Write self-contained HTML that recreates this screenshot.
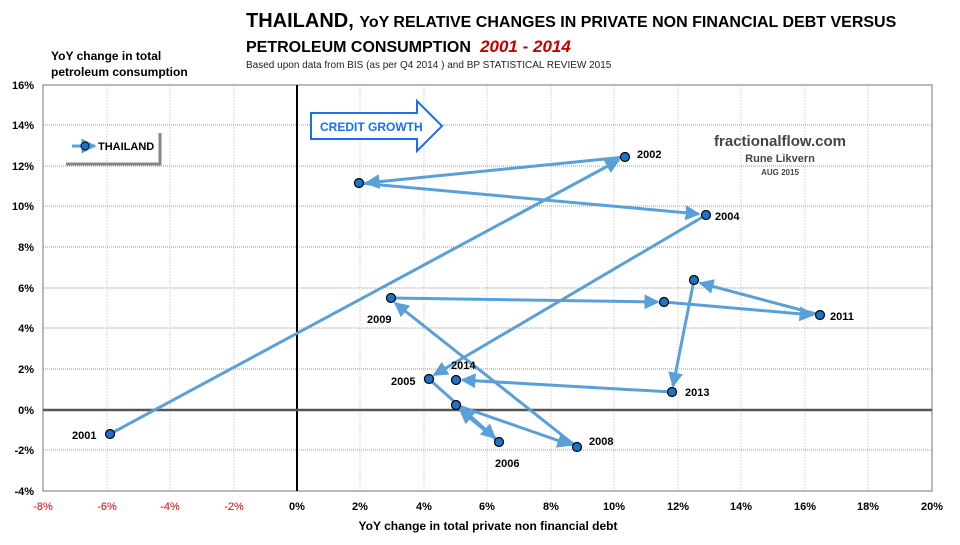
<!DOCTYPE html>
<html><head><meta charset="utf-8"><style>
body{margin:0;background:#fff;width:960px;height:540px;overflow:hidden;font-family:"Liberation Sans",sans-serif}
text{font-family:"Liberation Sans",sans-serif}
</style></head><body>
<svg width="960" height="540" xmlns="http://www.w3.org/2000/svg">
<defs>
<marker id="ah" viewBox="0 0 10 10" refX="9" refY="5" markerWidth="5" markerHeight="5" orient="auto-start-reverse">
<path d="M0,0 L10,5 L0,10 z" fill="#5aa0d8"/></marker>
</defs>
<text x="246" y="27" font-size="20" font-weight="bold" fill="#000">THAILAND, <tspan font-size="16">YoY RELATIVE CHANGES IN PRIVATE NON FINANCIAL DEBT VERSUS</tspan></text>
<text x="246" y="52" font-size="16" font-weight="bold" fill="#000">PETROLEUM CONSUMPTION <tspan fill="#c00000" font-style="italic" font-size="17">&#160;2001 - 2014</tspan></text>
<text x="246" y="68" font-size="10" fill="#222">Based upon data from BIS (as per Q4 2014 ) and BP STATISTICAL REVIEW 2015</text>
<text x="51" y="60" font-size="12" font-weight="bold">YoY  change in total</text>
<text x="51" y="76" font-size="12" font-weight="bold">petroleum consumption</text>
<g stroke="#d8d8d8" stroke-width="1" stroke-dasharray="2,1">
<line x1="107" y1="85" x2="107" y2="491"/><line x1="170" y1="85" x2="170" y2="491"/><line x1="234" y1="85" x2="234" y2="491"/>
<line x1="360" y1="85" x2="360" y2="491"/><line x1="424" y1="85" x2="424" y2="491"/><line x1="487" y1="85" x2="487" y2="491"/><line x1="551" y1="85" x2="551" y2="491"/><line x1="614" y1="85" x2="614" y2="491"/><line x1="678" y1="85" x2="678" y2="491"/><line x1="741" y1="85" x2="741" y2="491"/><line x1="805" y1="85" x2="805" y2="491"/><line x1="868" y1="85" x2="868" y2="491"/>
</g>
<g stroke="#999" stroke-width="1" stroke-dasharray="1,1">
<line x1="43" y1="125" x2="932" y2="125"/><line x1="43" y1="166" x2="932" y2="166"/><line x1="43" y1="206" x2="932" y2="206"/><line x1="43" y1="247" x2="932" y2="247"/><line x1="43" y1="288" x2="932" y2="288"/><line x1="43" y1="328" x2="932" y2="328"/><line x1="43" y1="369" x2="932" y2="369"/><line x1="43" y1="450" x2="932" y2="450"/>
</g>
<rect x="43" y="85" width="889" height="406" fill="none" stroke="#777"/>
<line x1="297" y1="85" x2="297" y2="491" stroke="#000" stroke-width="2"/>
<line x1="43" y1="410" x2="932" y2="410" stroke="#555" stroke-width="2.5"/>
<g font-size="11" font-weight="bold" text-anchor="end">
<text x="34" y="89">16%</text><text x="34" y="129">14%</text><text x="34" y="170">12%</text><text x="34" y="210">10%</text><text x="34" y="251">8%</text><text x="34" y="292">6%</text><text x="34" y="332">4%</text><text x="34" y="373">2%</text><text x="34" y="414">0%</text><text x="34" y="454">-2%</text><text x="34" y="495">-4%</text>
</g>
<g font-size="11" text-anchor="middle">
<g fill="#e00000"><text x="43" y="510">-8%</text><text x="107" y="510">-6%</text><text x="170" y="510">-4%</text><text x="234" y="510">-2%</text></g>
<g font-weight="bold"><text x="297" y="510">0%</text><text x="360" y="510">2%</text><text x="424" y="510">4%</text><text x="487" y="510">6%</text><text x="551" y="510">8%</text><text x="614" y="510">10%</text><text x="678" y="510">12%</text><text x="741" y="510">14%</text><text x="805" y="510">16%</text><text x="868" y="510">18%</text><text x="932" y="510">20%</text></g>
</g>
<text x="488" y="530" font-size="12" font-weight="bold" text-anchor="middle">YoY change in total private non financial debt</text>
<!-- legend -->
<path d="M66,164 H160 V133" fill="none" stroke="#888" stroke-width="3"/>
<line x1="72" y1="146" x2="95" y2="146" stroke="#5aa0d8" stroke-width="3" marker-end="url(#ah)"/>
<circle cx="85" cy="146" r="4" fill="#1a74c8" stroke="#000"/>
<text x="98" y="150" font-size="11" font-weight="bold">THAILAND</text>
<!-- credit growth arrow -->
<path d="M311,113 H417 V101 L442,126 L417,151 V139 H311 Z" fill="#fff" stroke="#1a6ef0" stroke-width="2"/>
<text x="320" y="131" font-size="12" font-weight="bold" fill="#1a6ef0">CREDIT GROWTH</text>
<text x="780" y="146" font-size="15" font-weight="bold" fill="#444" text-anchor="middle">fractionalflow.com</text>
<text x="780" y="162" font-size="11" font-weight="bold" fill="#444" text-anchor="middle">Rune Likvern</text>
<text x="780" y="175" font-size="8" font-weight="bold" fill="#444" text-anchor="middle">AUG 2015</text>
<!-- series -->
<g stroke="#5aa0d8" stroke-width="3" fill="none" marker-end="url(#ah)">
<line x1="110" y1="434" x2="619" y2="160"/>
<line x1="625" y1="157" x2="366" y2="183"/>
<line x1="359" y1="183" x2="699" y2="214"/>
<line x1="706" y1="215" x2="434" y2="375"/>
<line x1="429" y1="379" x2="495" y2="438"/>
<line x1="499" y1="442" x2="460" y2="410"/>
<line x1="456" y1="405" x2="571" y2="445"/>
<line x1="577" y1="447" x2="395" y2="303"/>
<line x1="391" y1="298" x2="658" y2="302"/>
<line x1="664" y1="302" x2="813" y2="315"/>
<line x1="820" y1="315" x2="700" y2="283"/>
<line x1="694" y1="280" x2="673" y2="386"/>
<line x1="672" y1="392" x2="462" y2="380"/>
</g>
<g fill="#1a74c8" stroke="#000" stroke-width="1.2">
<circle cx="110" cy="434" r="4.5"/><circle cx="625" cy="157" r="4.5"/><circle cx="359" cy="183" r="4.5"/><circle cx="706" cy="215" r="4.5"/><circle cx="429" cy="379" r="4.5"/><circle cx="499" cy="442" r="4.5"/><circle cx="456" cy="405" r="4.5"/><circle cx="577" cy="447" r="4.5"/><circle cx="391" cy="298" r="4.5"/><circle cx="664" cy="302" r="4.5"/><circle cx="820" cy="315" r="4.5"/><circle cx="694" cy="280" r="4.5"/><circle cx="672" cy="392" r="4.5"/><circle cx="456" cy="380" r="4.5"/>
</g>
<g font-size="11" font-weight="bold">
<text x="72" y="439">2001</text><text x="637" y="158">2002</text><text x="715" y="220">2004</text><text x="391" y="385">2005</text><text x="495" y="467">2006</text><text x="589" y="445">2008</text><text x="367" y="323">2009</text><text x="830" y="320">2011</text><text x="685" y="396">2013</text><text x="451" y="369">2014</text>
</g>
</svg>
</body></html>
